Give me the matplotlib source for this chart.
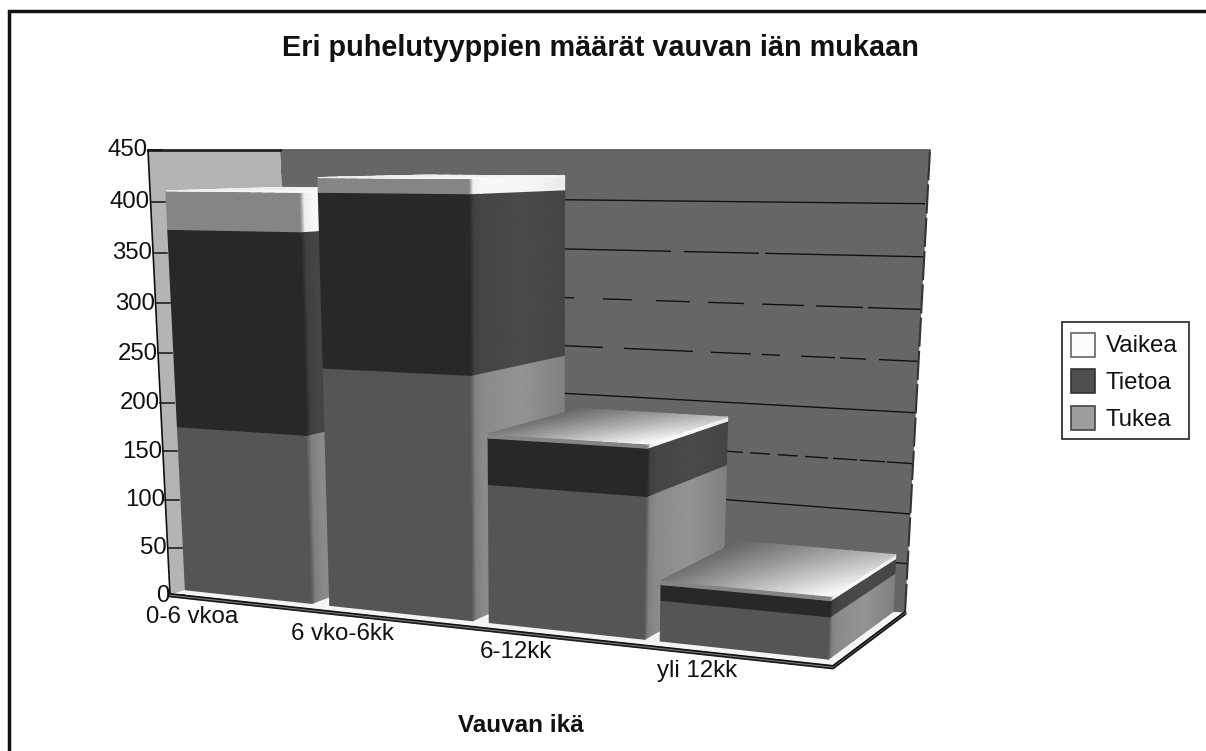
import numpy as np
import matplotlib
matplotlib.use("Agg")
import matplotlib.pyplot as plt
from matplotlib.patches import Polygon, Rectangle

plt.rcParams['font.family'] = ['Liberation Sans', 'DejaVu Sans']

# ---- data ----
categories = ["0-6 vkoa", "6 vko-6kk", "6-12kk", "yli 12kk"]
tukea = [172, 240, 136, 39]
tietoa = [200, 170, 45, 15]
vaikea = [38, 14, 4, 4]
series_names = ["Vaikea", "Tietoa", "Tukea"]
y_ticks = [0, 50, 100, 150, 200, 250, 300, 350, 400, 450]
title_text = "Eri puhelutyyppien määrät vauvan iän mukaan"
xlabel_text = "Vauvan ikä"

# ---- layout of the perspective box (pixels of the figure) ----
VMAX = 450.0
C = {(0, 0, 0): (170, 595), (1, 0, 0): (833, 667),
     (0, 1, 0): (148, 150), (1, 1, 0): (851, 150),
     (0, 0, 1): (298, 552), (1, 0, 1): (905, 613),
     (0, 1, 1): (280, 150), (1, 1, 1): (930, 150)}
bar_edges = [(0.0, 0.193), (0.22, 0.438), (0.463, 0.70), (0.7235, 0.98)]
W0, W1 = 0.12, 1.0
cat_label_pos = [(192, 617), (342, 634), (516, 652), (697, 671)]
top_dark = [0.93, 0.93, 0.42, 0.40]


def project(u, v, w):
    """Data (u along categories, v value, w depth) -> pixels."""
    u, v, w = np.asarray(u, float), np.asarray(v, float), np.asarray(w, float)
    t = v / VMAX
    s = t / (1 + 0.05 * (1 - t))
    x = y = 0
    for (a, b, c), (px, py) in C.items():
        k = (u if a else 1 - u) * (s if b else 1 - s) * (w if c else 1 - w)
        x = x + k * px
        y = y + k * py
    return x, y


fig = plt.figure(figsize=(12.06, 7.51), dpi=100, facecolor="white")
ax = fig.add_axes([0, 0, 1, 1])
ax.set_xlim(0, 1206)
ax.set_ylim(751, 0)
ax.axis("off")


def poly(pts, fc, z, ec="none", lw=0):
    xy = [tuple(float(c) for c in project(*p)) for p in pts]
    ax.add_patch(Polygon(xy, closed=True, fc=fc, ec=ec, lw=lw, zorder=z))


def face(U, V, W, S, z):
    X, Y = project(U, V, W)
    ax.pcolormesh(X, Y, S, cmap="gray", vmin=0, vmax=1, shading="gouraud",
                  zorder=z, antialiased=True)


# walls and floor
poly([(0, 0, 1), (1, 0, 1), (1, VMAX, 1), (0, VMAX, 1)], "#666666", 1)
poly([(0, 0, 0), (0, VMAX, 0), (0, VMAX, 1), (0, 0, 1)], "#b4b4b4", 1.1)
poly([(0, 0, 0), (1, 0, 0), (1, 0, 1), (0, 0, 1)], "#f4f4f4", 1.2)

# gridlines on the back wall; broken where the reference breaks them
grid_pieces = {
    50: [(560, 925)],
    100: [(560, 925)],
    150: [(560, 743), (750, 770), (778, 798), (805, 828), (833, 857), (860, 885), (887, 925)],
    200: [(560, 925)],
    250: [(560, 603), (624, 693), (711, 751), (762, 780), (801, 835), (840, 866), (879, 925)],
    300: [(560, 574), (603, 632), (656, 690), (708, 744), (762, 804), (816, 863), (868, 925)],
    350: [(560, 671), (684, 759), (765, 925)],
    400: [(560, 925)],
}
for val, pieces in grid_pieces.items():
    x0, _ = project(0.0, val, 1.0)
    x1, _ = project(1.0, val, 1.0)
    for a, b in pieces:
        ua = np.clip((a - x0) / (x1 - x0), 0, 1)
        ub = np.clip((b - x0) / (x1 - x0), 0, 1)
        xs, ys = project(np.array([ua, ub]), np.array([val, val]), np.array([1.0, 1.0]))
        ax.plot(xs, ys, color="#111111", lw=1.0, zorder=1.3, solid_capstyle="butt")

# wall outlines
x, y = project(np.array([1.0, 1.0]), np.array([0.0, VMAX]), np.array([1.0, 1.0]))
ax.plot(x, y, color="#333333", lw=1.5, ls=(0, (14, 2)), zorder=1.4)
x, y = project(np.array([0.0, 1.0]), np.array([VMAX, VMAX]), np.array([1.0, 1.0]))
ax.plot(x, y, color="#555555", lw=1.2, zorder=1.4)
x, y = project(np.array([0.0, 0.0]), np.array([VMAX, VMAX]), np.array([0.0, 1.0]))
ax.plot(x, y, color="#222222", lw=2, zorder=1.4)

# y axis line, ticks and labels
x, y = project(np.array([0.0, 0.0]), np.array([0.0, VMAX]), np.array([0.0, 0.0]))
ax.plot(x, y, color="#111111", lw=1.2, zorder=1.5)
for val in y_ticks:
    tx, ty = project(0.0, val, 0.0)
    ax.plot([tx, tx + 14], [ty, ty], color="#111111", lw=1.1, zorder=1.5)
    ax.text(float(tx) - 0.5, float(ty) + 0.5, str(val), ha="right", va="center",
            fontsize=17.3, color="#111111", zorder=9)

FRONT = {"tukea": 0.335, "tietoa": 0.16, "vaikea": 0.52}
WS = np.array([0.0, 0.04, 0.12, 0.55, 1.0])
SIDE = {"tukea": [0.36, 0.50, 0.54, 0.58, 0.50],
        "tietoa": [0.16, 0.25, 0.27, 0.29, 0.27],
        "vaikea": [0.52, 0.93, 0.97, 0.97, 0.92]}

# bars, back to front
for i, (u0, u1) in enumerate(bar_edges):
    base = 0.0
    stack = [("tukea", tukea[i]), ("tietoa", tietoa[i]), ("vaikea", vaikea[i])]
    for name, val in stack:
        top = base + val
        vs = np.array([base, top])
        z = 2 + i + {"tukea": 0.1, "tietoa": 0.2, "vaikea": 0.3}[name]
        us = np.array([u0, u1])
        U, V = np.meshgrid(us, vs)
        face(U, V, np.full_like(U, W0), np.full_like(U, FRONT[name]), z)
        ws = W0 + WS * (W1 - W0)
        W, V = np.meshgrid(ws, vs)
        S = np.vstack([SIDE[name], SIDE[name]])
        face(np.full_like(W, u1), V, W, S, z)
        base = top
    # top face with gradient: brightest at the front-right corner
    uu = np.linspace(u0, u1, 12)
    ww = np.linspace(W0, W1, 12)
    U, W = np.meshgrid(uu, ww)
    fu = (U - u0) / (u1 - u0)
    fw = (W - W0) / (W1 - W0)
    d = top_dark[i]
    S = d + (1 - d) * fu * (1 - 0.40 * fw) + (1 - d) * 0.10 * (1 - fw) * (1 - fu)
    S = np.clip(S, 0, 1)
    face(U, np.full_like(U, base), W, S, 2 + i + 0.4)

# floor front edge (double line)
fx, fy = project(np.array([0.0, 1.0, 1.0]), np.zeros(3), np.array([0.0, 0.0, 1.0]))
ax.plot(fx, fy + 0.2, color="#777777", lw=2.6, zorder=8)
for off, col in ((-1.2, "#111111"), (1.6, "#1a1a1a")):
    ax.plot(fx, fy + off, color=col, lw=1.2, zorder=8)

# category labels
for lab, (lx, ly) in zip(categories, cat_label_pos):
    ax.text(lx, ly, lab, ha="center", va="center", fontsize=17.3, color="#111111", zorder=9)

# title and axis title
ax.text(600.5, 48, title_text, ha="center", va="center", fontsize=20.75,
        fontweight="bold", color="#111111")
ax.text(521, 726, xlabel_text, ha="center", va="center", fontsize=17.5,
        fontweight="bold", color="#111111")

# legend
ax.add_patch(Rectangle((1062, 322), 127, 117, fc="white", ec="#222222", lw=1.2, zorder=5))
swatches = ["#fbfdfc", "#4f4f4f", "#9e9e9e"]
edges = ["#666666", "#333333", "#444444"]
for name, col, ec, sy, ty in zip(series_names, swatches, edges, [333, 369, 406], [346, 383, 420]):
    ax.add_patch(Rectangle((1071, sy), 24, 24, fc=col, ec=ec, lw=1.2, zorder=6))
    ax.text(1106, ty, name, ha="left", va="center", fontsize=17.3, color="#111111", zorder=6)

# outer frame: top and left only
ax.plot([9, 9, 1206], [751, 10.5, 10.5], color="#111111", lw=2.5, zorder=10,
        solid_joinstyle="miter")

fig.savefig("out.png", dpi=100, facecolor="white")
